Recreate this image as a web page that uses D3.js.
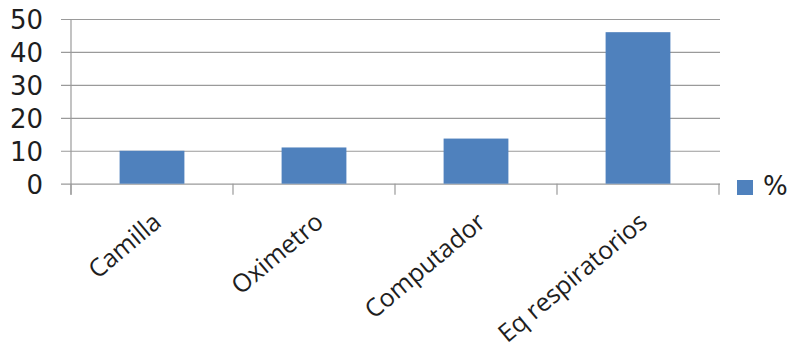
<!DOCTYPE html>
<html>
<head>
<meta charset="utf-8">
<script src="https://cdn.jsdelivr.net/npm/d3@7"></script>
<style>
  html, body { margin: 0; padding: 0; background: #fff; }
  svg { display: block; }
  text { font-family: "Open Sans", "Noto Sans", sans-serif; fill: #1e1e1e; }
</style>
</head>
<body>
<svg id="chart" width="790" height="356"></svg>
<script>
// Equipment categories and their percentage share
const categories = ["Camilla", "Oximetro", "Computador", "Eq respiratorios"];
const values = [10, 11, 13.7, 46];
const yTicks = [0, 10, 20, 30, 40, 50];
const seriesName = "%";

const svg = d3.select("#chart");
const barColor = "#4f81bd";
const gridColor = "#9a9a9a";
const wideFont = "'DejaVu Sans', Verdana, sans-serif";

const plot = { left: 71, right: 719, top: 19, bottom: 183.7 };

const x = d3.scaleBand()
  .domain(categories)
  .range([plot.left, plot.right])
  .paddingInner(0.6)
  .paddingOuter(0.3);

const y = d3.scaleLinear()
  .domain([0, 50])
  .range([plot.bottom, plot.top]);

// Horizontal gridlines with value labels on the left
const yAxis = d3.axisLeft(y)
  .tickValues(yTicks)
  .tickFormat(d3.format("d"))
  .tickSizeInner(-(plot.right + 1 - 61))
  .tickSizeOuter(0)
  .tickPadding(18);

const gy = svg.append("g")
  .attr("transform", "translate(61,0)")
  .call(yAxis);
gy.select(".domain").remove();
gy.selectAll(".tick line")
  .attr("stroke", gridColor)
  .attr("stroke-width", 1.2);
gy.selectAll(".tick text")
  .attr("font-size", 26)
  .attr("dy", "0.36em")
  .style("font-family", wideFont)
  .style("fill", "#1e1e1e");

// Bars
svg.append("g")
  .selectAll("rect")
  .data(values)
  .join("rect")
  .attr("x", (d, i) => x(categories[i]))
  .attr("y", d => y(d))
  .attr("width", x.bandwidth())
  .attr("height", d => y(0) - y(d))
  .attr("fill", barColor);

// Vertical value axis line
svg.append("line")
  .attr("x1", plot.left).attr("x2", plot.left)
  .attr("y1", y(50)).attr("y2", y(0) + 11)
  .attr("stroke", gridColor)
  .attr("stroke-width", 1.2);

// Category boundary tick marks under the baseline
const gap = (x.step() - x.bandwidth()) / 2;
const boundaries = categories.map(c => x(c) - gap).concat([x(categories[categories.length - 1]) + x.bandwidth() + gap]);
svg.append("g")
  .selectAll("line")
  .data(boundaries)
  .join("line")
  .attr("x1", d => d).attr("x2", d => d)
  .attr("y1", y(0)).attr("y2", y(0) + 11)
  .attr("stroke", gridColor)
  .attr("stroke-width", 1.2);

// Rotated category labels
const xAxis = d3.axisBottom(x).tickSize(0).tickPadding(0);
const gx = svg.append("g")
  .attr("transform", `translate(0,${y(0)})`)
  .call(xAxis);
gx.select(".domain").remove();
gx.selectAll(".tick text")
  .attr("font-size", 25)
  .attr("text-anchor", "end")
  .attr("x", 0).attr("y", 0).attr("dy", 0)
  .attr("transform", "translate(11,41) rotate(-40)")
  .style("fill", "#1e1e1e");

// Legend
const legend = svg.append("g").attr("transform", "translate(737,180)");
legend.append("rect")
  .attr("width", 16).attr("height", 15)
  .attr("fill", barColor);
legend.append("text")
  .attr("x", 26).attr("y", 15)
  .attr("font-size", 26)
  .style("font-family", wideFont)
  .text(seriesName);
</script>
</body>
</html>
